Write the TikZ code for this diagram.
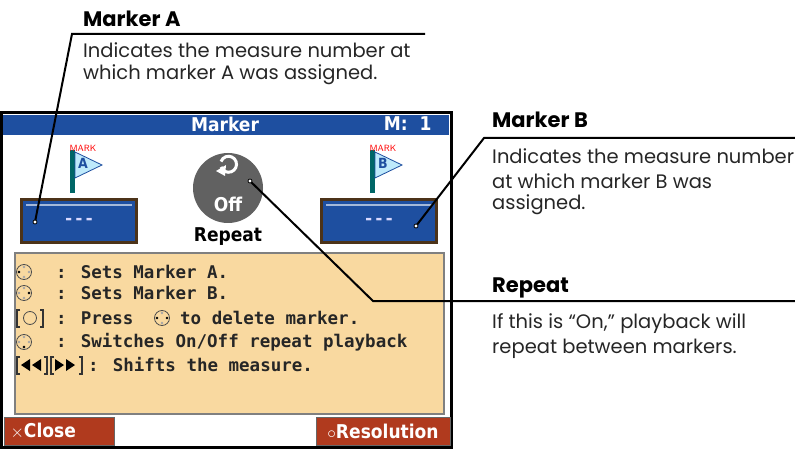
\documentclass[tikz,border=0pt]{standalone}
\usepackage{fontspec}
\setmainfont{Poppins}
\newfontfamily\scr{DejaVu Sans Mono}
\newfontfamily\scrc{DejaVu Sans Condensed}
\begin{document}
\begin{tikzpicture}[x=1pt,y=-1pt,
  head/.style={anchor=west,font=\fontsize{21}{21}\selectfont\bfseries,inner sep=0},
  body/.style={anchor=west,font=\fontsize{19.5}{20}\selectfont,inner sep=0,text=black!85},
  call/.style={line width=2pt},
  pt/.style={draw=black,fill=white,circle,inner sep=0,minimum size=4pt,line width=0.8pt},
  st/.style={font=\scr\bfseries\fontsize{17.5}{18}\selectfont,inner sep=0,anchor=west,text=black!85},
  icon/.style={draw=black!70,circle,minimum size=15pt,inner sep=0,line width=0.8pt}]
\useasboundingbox (0,0) rectangle (795,449);
\definecolor{sblue}{HTML}{1E4FA0}
\definecolor{pan}{HTML}{F9D9A0}
\definecolor{btn}{HTML}{B03A1E}
% screen
\draw[line width=3pt,fill=white] (1.5,113) rectangle (451,447.5);
\fill[sblue] (3,115) rectangle (449,135);
\node[font=\scrc\bfseries\fontsize{19}{19}\selectfont,text=white] (title) at (225,124) {Marker};
\node[font=\scrc\bfseries\fontsize{19}{19}\selectfont,text=white,anchor=east] (m) at (435,124) {M:\ \ 1};
% flags
\foreach \x/\l/\n in {80/A/fa,380/B/fb}{
  \fill[teal!80!black] (\x-10,150) rectangle (\x-5,193);
  \filldraw[fill=cyan!25,draw=sblue,line width=0.8pt] (\x-5,152) -- (\x+22,165) -- (\x-5,178) -- cycle;
  \node[font=\scrc\bfseries\fontsize{14}{14}\selectfont,text=sblue] (\n) at (\x+3,163) {\l};
  \node[font=\sffamily\fontsize{9}{9}\selectfont,text=red] at (\x+3,148) {MARK};
}
% value boxes
\node[draw=black!60!brown,line width=3pt,fill=sblue,minimum width=115pt,minimum height=43pt,inner sep=0] (ba) at (79,221) {};
\node[draw=black!60!brown,line width=3pt,fill=sblue,minimum width=115pt,minimum height=43pt,inner sep=0] (bb) at (379,221) {};
\draw[white!60!sblue,line width=1.5pt] (26,205) -- (132,205) (326,205) -- (432,205);
\node[font=\scr\bfseries\fontsize{17}{17}\selectfont,text=white!85!blue] at (ba) {---};
\node[font=\scr\bfseries\fontsize{17}{17}\selectfont,text=white!85!blue] at (bb) {---};
% repeat circle
\node[circle,fill=black!62,minimum size=70pt,inner sep=0] (rc) at (228,188) {};
\draw[white,line width=3pt] (221,167) arc (160:-160:8);
\fill[white] (216,171) -- (226,165) -- (225,176) -- cycle;
\node[font=\scrc\bfseries\fontsize{19}{19}\selectfont,text=white] (off) at (228,204) {Off};
\node[font=\scrc\bfseries\fontsize{19}{19}\selectfont] (rep) at (228,237) {Repeat};
% panel
\draw[fill=pan,draw=black!50,line width=1.2pt] (15,253) rectangle (444,414);
\foreach \y in {272,293,342}{\node[icon] at (24,\y) {}; \fill[black!35] (24,\y-5) circle (1.4pt) (24,\y+5) circle (1.4pt) (19,\y) circle (1.4pt) (29,\y) circle (1.4pt);}
\fill[black] (19,272) circle (1.4pt) (29,293) circle (1.4pt) (24,347) circle (1.4pt);
\node[st] at (56,272) {: Sets Marker A.};
\node[st] at (56,293) {: Sets Marker B.};
\draw[black!80,line width=1.2pt] (20,310) -- (17,310) -- (17,327) -- (20,327) (40,310) -- (43,310) -- (43,327) -- (40,327);
\draw[black!70,line width=0.8pt] (30,318) circle (6.5pt);
\node[st] at (56,318) {: Press};
\node[icon] at (162,318) {}; \fill[black!35] (162,313) circle (1.4pt) (162,323) circle (1.4pt); \fill[black] (157,318) circle (1.4pt) (167,318) circle (1.4pt);
\node[st] at (180,318) {to delete marker.};
\node[st] at (56,342) {: Switches On/Off repeat playback};
\draw[black!80,line width=1.2pt] (20,357) -- (17,357) -- (17,374) -- (20,374) (44,357) -- (47,357) -- (47,374) -- (44,374)
  (54,357) -- (51,357) -- (51,374) -- (54,374) (79,357) -- (82,357) -- (82,374) -- (79,374);
\fill[black] (30,359) -- (30,371) -- (21,365) -- cycle (41,359) -- (41,371) -- (32,365) -- cycle
  (55,359) -- (55,371) -- (64,365) -- cycle (66,359) -- (66,371) -- (75,365) -- cycle;
\node[st] at (88,365) {: Shifts the measure.};
% buttons
\node[fill=btn,draw=black!60,minimum width=110pt,minimum height=28pt,inner sep=0] (close) at (59,431) {};
\node[font=\scrc\bfseries\fontsize{19}{19}\selectfont,text=white,anchor=west] at (7,431) {$\times$Close};
\node[fill=btn,draw=black!60,minimum width=134pt,minimum height=28pt,inner sep=0] (res) at (383,431) {};
\node[font=\scrc\bfseries\fontsize{19}{19}\selectfont,text=white] at (383,431) {$\circ$Resolution};
% callouts
\coordinate (ka) at (72,34); \coordinate (ea) at (425,34);
\coordinate (kb) at (484,138); \coordinate (eb) at (795,138);
\coordinate (kr) at (373,301); \coordinate (er) at (795,301);
\coordinate (pa) at (35,222); \coordinate (pb) at (416,226); \coordinate (pr) at (250,181);
\draw[call] (pa) -- (ka) -- (ea);
\draw[call] (pb) -- (kb) -- (eb);
\draw[call] (pr) -- (kr) -- (er);
\node[pt] at (pa) {}; \node[pt] at (pb) {}; \node[pt] at (pr) {};
\node[head] (ha) at (83,19) {Marker A};
\node[body] (ta1) at (83,50) {Indicates the measure number at};
\node[body] (ta2) at (83,75) {which marker A was assigned.};
\node[head] (hb) at (492,120) {Marker B};
\node[body] at (492,156) {Indicates the measure number};
\node[body] at (492,181) {at which marker B was};
\node[body] at (492,205) {assigned.};
\node[head] (hr) at (492,288) {Repeat};
\node[body] at (492,324) {If this is “On,” playback will};
\node[body] at (492,349) {repeat between markers.};
\end{tikzpicture}
\end{document}
